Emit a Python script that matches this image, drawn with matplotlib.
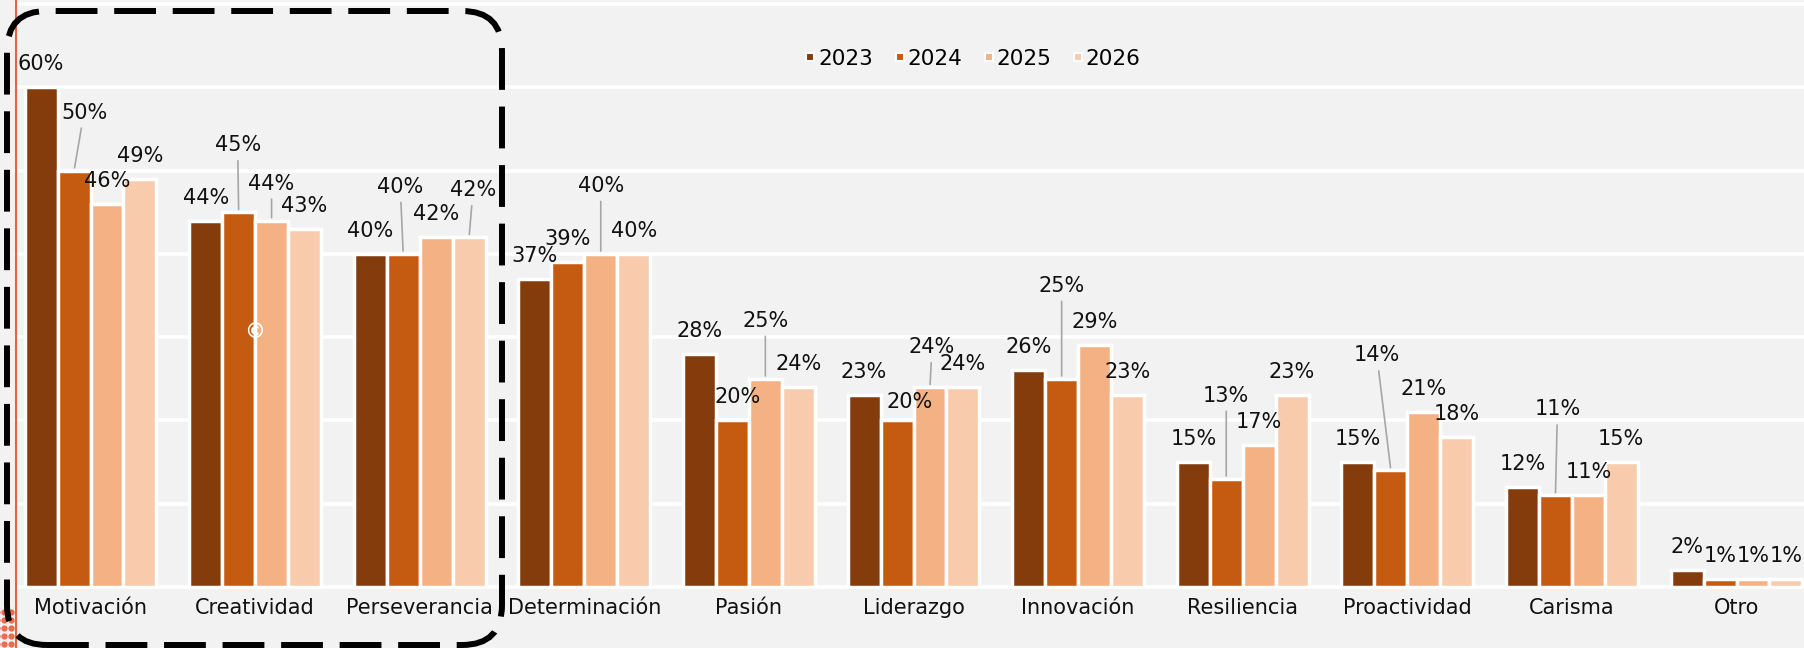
import matplotlib
matplotlib.use('Agg')
import numpy as np
import matplotlib.pyplot as plt
from matplotlib.patches import FancyBboxPatch
from matplotlib.lines import Line2D

categories = ['Motivación', 'Creatividad', 'Perseverancia', 'Determinación', 'Pasión',
              'Liderazgo', 'Innovación', 'Resiliencia', 'Proactividad', 'Carisma', 'Otro']
years = ['2023', '2024', '2025', '2026']
v2023 = [60, 44, 40, 37, 28, 23, 26, 15, 15, 12, 2]
v2024 = [50, 45, 40, 39, 20, 20, 25, 13, 14, 11, 1]
v2025 = [46, 44, 42, 40, 25, 24, 29, 17, 21, 11, 1]
v2026 = [49, 43, 42, 40, 24, 24, 23, 23, 18, 15, 1]
series = [v2023, v2024, v2025, v2026]
colors = ['#843c0c', '#c55a11', '#f4b183', '#f8cbad']

# label offsets in pixels (dx, height of baseline above bar) where labels were moved apart
label_shift = {(0, 1): (10, 52), (1, 1): (-1, 61), (1, 2): (0, 31), (2, 1): (-3, 61),
               (2, 3): (4, 41), (3, 2): (0, 62), (4, 1): (5, 17), (4, 2): (0, 52),
               (5, 1): (13, 12), (5, 2): (2, 34), (6, 1): (0, 87), (7, 1): (0, 77),
               (8, 1): (-14, 109), (9, 1): (2, 80)}

W, H = 1804, 648
bg = '#f2f2f2'
plt.rcParams['font.family'] = 'DejaVu Sans'

fig = plt.figure(figsize=(W / 100, H / 100), dpi=100, facecolor=bg)
ax = fig.add_axes([16 / W, (H - 587) / H, (W - 16) / W, 587 / H])
ax.set_facecolor(bg)

band = 164.6
x0 = -74.5 / band
ax.set_xlim(x0, x0 + (W - 16) / band)
ax.set_ylim(0, 587 / 8.329)

for t in range(0, 71, 10):
    ax.axhline(t, color='white', lw=2.6, zorder=0.5, clip_on=False)

x = np.arange(len(categories))
for j, (vals, c) in enumerate(zip(series, colors)):
    xs = x + (j - 1.5) * 0.2
    ax.bar(xs, vals, width=0.2, color=c, edgecolor='white', linewidth=2.5, zorder=2)
    for i, v in enumerate(vals):
        dx, gap = label_shift.get((i, j), (0, 17))
        arrow = None
        if gap > 25:
            arrow = dict(arrowstyle='-', color='#a6a6a6', lw=1.2, shrinkA=2, shrinkB=2)
        ax.annotate(f'{v}%', xy=(xs[i], v), xytext=(dx, gap), textcoords='offset pixels',
                    ha='center', va='baseline', fontsize=15, color='#111111',
                    arrowprops=arrow, zorder=4)

ax.set_xticks(x, categories, fontsize=15, color='#111111')
ax.set_yticks([])
ax.tick_params(axis='x', length=0, pad=8)
for s in ax.spines.values():
    s.set_visible(False)

handles = [Line2D([], [], marker='s', ls='none', markersize=6, markerfacecolor=c,
                  markeredgecolor='white', markeredgewidth=1.5) for c in colors]
fig.legend(handles, years, loc='center left', bbox_to_anchor=(805 / W, (H - 59) / H),
           ncol=4, frameon=False, fontsize=15.5, handlelength=0.5, handletextpad=0.1,
           columnspacing=1.0, borderpad=0, borderaxespad=0)

# page decorations around the chart
fig.add_artist(Line2D([16 / W, 16 / W], [0, 1], transform=fig.transFigure,
                      color='#e4643f', lw=1.5, zorder=1))
for px in [-3, 4, 11]:
    for py in [612, 620, 628, 636, 644]:
        fig.add_artist(Line2D([px / 100], [(H - py) / 100], transform=fig.dpi_scale_trans,
                              marker='o', markersize=3.5, color='#ee6a4c', ls='none'))
box = FancyBboxPatch((0.07, 0.03), 4.95, 6.34, boxstyle='round,pad=0,rounding_size=0.4',
                     transform=fig.dpi_scale_trans, fill=False, ec='black', lw=4.3,
                     ls=(0, (7, 2.8)), zorder=10)
fig.add_artist(box)
fig.text(255 / W, (H - 332) / H, '©', color='white', fontsize=15, fontweight='bold',
         ha='center', va='center')

fig.savefig('out.png', dpi=100, facecolor=bg)
